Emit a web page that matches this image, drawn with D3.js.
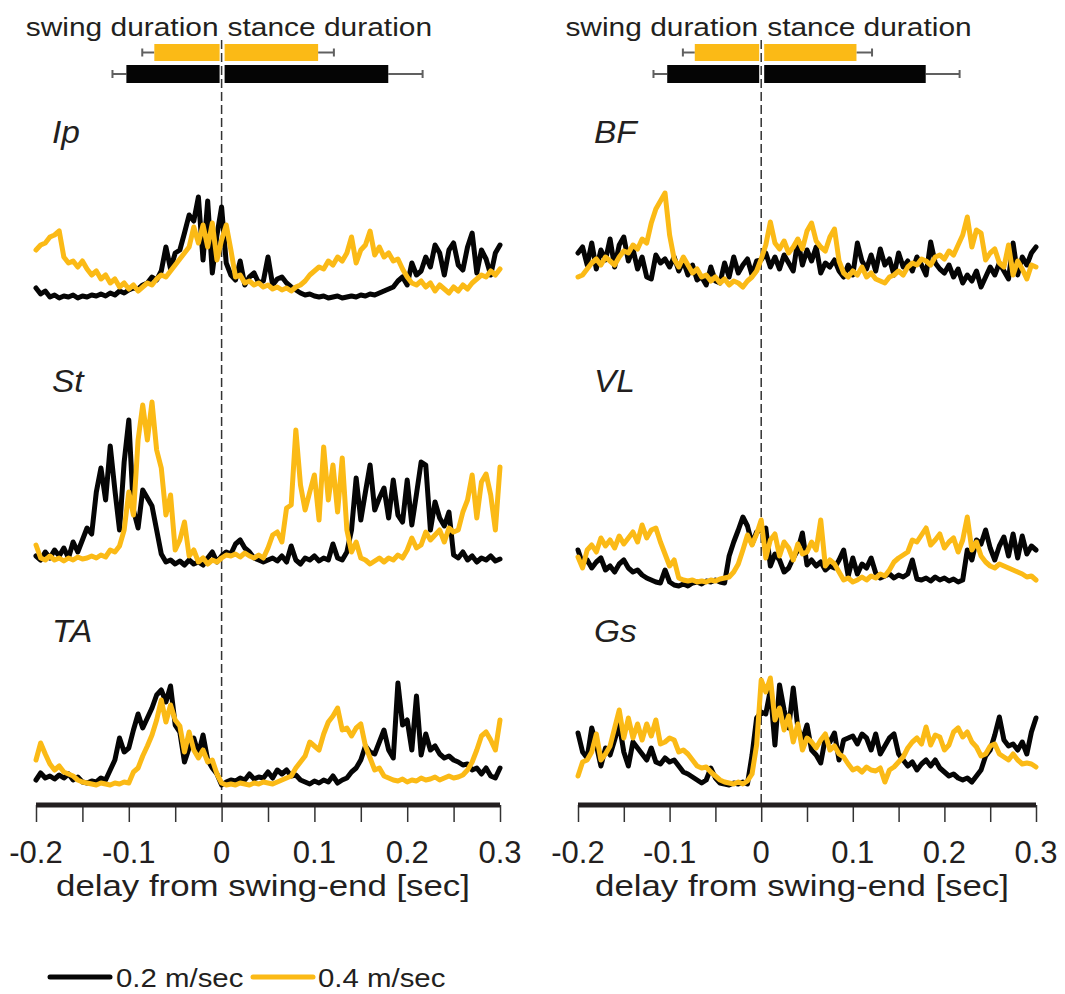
<!DOCTYPE html>
<html>
<head>
<meta charset="utf-8">
<script src="https://cdn.jsdelivr.net/npm/d3@7"></script>
<style>
  html, body { margin: 0; padding: 0; background: #fff; }
  svg { display: block; }
  text { font-family: "Liberation Sans", Arial, Helvetica, sans-serif; fill: #231f20; }
</style>
</head>
<body>
<svg id="chart" width="1065" height="994"></svg>
<script>
// Time base of the averaged EMG traces (seconds relative to swing end)
const t0 = -0.2;
const dt = 0.005;

// Speed conditions
const speeds = ["0.2 m/sec", "0.4 m/sec"];
const speedColors = ["#050505", "#fbba16"];

// Mean swing / stance durations (sec) and their SD, per speed
const swingMean  = [0.1026, 0.0725];
const swingSD    = [0.0150, 0.0130];
const stanceMean = [0.1796, 0.1040];
const stanceSD   = [0.0370, 0.0170];

// Axis ticks
const tickValues = [-0.2, -0.15, -0.1, -0.05, 0, 0.05, 0.1, 0.15, 0.2, 0.25, 0.3];
const tickLabels = ["-0.2", "-0.1", "0", "0.1", "0.2", "0.3"];

// Muscle names
const muscles = ["Ip", "St", "TA", "BF", "VL", "Gs"];

// Rectified EMG envelopes (a.u.), 0.2 m/sec
const ipSlow = [17,11,14,8,10,7,9,8,10,7,9, 8,10,9,11,9,12,10,14,12,15, 17,16,20,22,28,25,34,58,36,52, 55,72,90,84,108,45,104,32,70,98, 42,30,25,44,20,28,32,22,24,48, 20,26,28,22,18,15,12,10,11,9, 8,9,7,8,9,7,8,9,8,10, 9,11,10,12,14,16,18,24,28,20, 42,30,34,48,38,60,52,30,55,62, 40,35,58,72,32,55,46,30,52,60];
const stSlow = [14,10,18,12,20,14,22,12,28,18,30, 42,36,78,102,70,124,80,40,108,150, 60,42,80,72,64,40,16,8,10,6, 9,5,10,6,8,5,12,18,8,14, 18,16,26,30,22,18,12,10,8,10, 12,9,14,8,24,10,6,12,10,14, 9,12,10,26,12,10,18,40,92,50, 78,105,60,72,82,52,90,55,48,90, 45,76,108,105,40,68,52,44,58,15, 12,18,10,14,8,12,10,14,9,11];
const taSlow = [10,17,12,14,11,15,12,16,10,13,8, 7,9,8,12,10,20,30,52,38,42, 60,76,62,72,82,95,100,88,104,65, 58,28,42,52,36,55,30,22,16,5, 8,10,9,12,10,16,11,13,12,18, 12,20,16,20,14,15,10,8,6,9, 7,10,8,14,7,10,12,18,22,30, 44,38,36,48,60,40,32,107,65,70, 40,94,35,56,40,44,36,32,34,30, 28,25,26,20,22,16,22,14,12,22];
const bfSlow = [52,58,40,62,36,55,45,66,38,60, 68,44,56,36,48,28,26,50,42,46, 38,48,34,44,30,40,25,28,20,38, 24,22,42,28,48,32,40,46,30,44, 45,52,38,48,36,50,42,34,65,40, 55,44,58,32,42,38,45,34,28,40, 30,62,44,36,50,34,56,40,46,30, 52,38,44,34,48,40,30,63,42,36, 32,40,28,36,22,30,24,34,18,28, 38,30,42,34,26,62,30,48,40,52, 58];
const vlSlow = [40,26,30,22,28,32,20,24,18,26, 30,22,18,20,15,12,10,8,7,20, 8,5,4,6,4,7,8,6,9,8, 10,8,7,34,48,60,73,64,46,58, 60,62,24,36,30,18,22,32,40,57, 25,30,24,28,20,24,22,30,40,14, 32,16,26,22,32,17,12,14,16,12, 15,13,16,30,11,10,12,9,13,10, 12,9,11,8,10,40,30,50,46,60, 42,30,44,53,34,56,32,54,36,44, 40];
const gsSlow = [57,38,32,62,45,24,42,35,50,66, 38,24,48,42,36,30,42,28,26,32, 28,30,24,18,16,13,10,7,10,22, 12,7,6,5,7,6,8,6,35,72, 78,76,100,45,105,80,62,102,62,50, 65,40,35,27,52,48,57,30,50,52, 54,46,56,52,40,56,36,44,52,56, 36,30,24,28,20,26,30,24,30,22, 18,14,16,12,10,12,8,14,20,34, 40,55,73,50,44,46,40,48,36,58, 72];

// Rectified EMG envelopes (a.u.), 0.4 m/sec
const ipFast = [55,60,62,68,70,74,48,42,44,38,44, 36,30,34,26,30,22,26,18,22,16, 20,14,18,22,20,26,30,28,34,40, 46,52,58,78,62,80,58,82,45,65, 80,55,28,30,22,24,20,22,18,20, 16,18,15,17,14,18,20,24,30,34, 38,36,44,40,48,44,52,68,42,55, 60,74,50,58,48,52,44,46,36,28, 22,20,24,18,22,14,20,16,12,18, 14,20,16,22,26,30,28,34,30,36];
const stFast = [25,12,10,14,10,12,9,12,10,13,11, 12,14,12,15,13,20,18,24,40,78, 55,130,165,130,168,120,102,55,75,20, 30,48,14,20,8,12,6,10,8,12, 15,14,16,13,17,14,12,15,12,22, 35,38,28,62,65,140,85,60,78,95, 50,123,70,105,58,112,40,18,28,12, 10,6,9,12,8,12,10,15,12,20, 32,22,25,38,30,35,40,28,42,38, 40,58,70,95,52,88,96,75,40,103];
const taFast = [30,47,36,26,20,24,18,16,14,10,8, 7,6,5,7,6,5,7,6,8,7, 18,22,34,44,55,70,90,68,85,70, 64,38,58,40,32,40,28,30,16,7, 5,6,5,7,6,5,7,6,8,7, 6,8,10,12,14,22,28,34,48,44, 40,56,68,74,82,60,62,54,62,66, 44,32,20,22,14,12,10,9,11,8, 10,9,12,10,11,13,10,12,14,12, 13,15,20,28,40,54,58,50,40,70];
const bfFast = [28,30,36,42,46,40,48,44,40,48, 54,52,60,56,66,62,82,96,104,112, 70,46,38,48,40,32,36,28,30,24, 28,22,26,20,24,22,18,24,28,34, 46,60,83,62,56,64,52,58,66,56, 74,82,64,58,54,68,76,44,32,28, 34,30,38,28,32,26,24,22,28,30, 34,30,38,42,40,46,44,40,48,50, 46,54,50,60,70,88,58,75,72,45, 52,56,42,38,60,30,44,36,26,40, 38];
const vlFast = [33,22,40,45,38,52,44,50,42,54, 46,52,58,48,65,52,60,62,48,36, 24,30,12,10,9,10,8,9,8,10, 9,11,12,13,18,26,40,55,45,56, 70,32,50,56,34,48,42,30,46,36, 38,48,40,70,24,30,26,18,10,12, 8,10,13,10,14,12,16,14,20,28, 32,35,38,50,48,55,62,45,50,56, 42,48,52,38,50,73,40,48,34,28, 24,22,26,24,22,20,18,16,13,14, 10];
const gsFast = [14,28,30,38,56,30,36,44,62,80, 52,72,52,66,50,66,54,70,46,48, 52,50,38,40,36,30,24,22,23,18, 14,10,8,7,6,8,6,9,16,45, 110,98,112,70,82,60,74,48,66,40, 52,48,42,50,56,40,44,36,33,26, 20,22,18,23,20,19,22,8,20,23, 28,33,42,48,52,46,63,45,55,53, 40,45,58,62,53,58,48,43,34,36, 44,46,36,33,30,36,30,26,27,26, 23];

const slowSeries = [ipSlow, stSlow, taSlow, bfSlow, vlSlow, gsSlow];
const fastSeries = [ipFast, stFast, taFast, bfFast, vlFast, gsFast];

// ---------------------------------------------------------------
const svg = d3.select("#chart");

// Widen a text element horizontally by a factor (the typeface is set a bit wide)
function widen(sel, k) {
  sel.each(function () {
    const w = this.getComputedTextLength();
    d3.select(this).attr("textLength", w * k).attr("lengthAdjust", "spacingAndGlyphs");
  });
  return sel;
}

const columns = [
  { range: [36, 500] },
  { range: [578, 1036] }
];
// baseline of each trace row, per column
const rowBase = [[305, 570, 790], [305, 590, 790]];
const axisY = 805;

const line = (xs, ys) => d3.line()
  .x((d, i) => xs(t0 + i * dt))
  .y(d => ys(d))
  .curve(d3.curveLinear);

columns.forEach((col, c) => {
  const x = d3.scaleLinear().domain([-0.2, 0.3]).range(col.range);
  const g = svg.append("g");

  // zero line (swing end)
  g.append("line")
    .attr("x1", x(0)).attr("x2", x(0))
    .attr("y1", 40).attr("y2", axisY)
    .attr("stroke", "#333").attr("stroke-width", 1.5)
    .attr("stroke-dasharray", "9,4");

  // duration headers
  const h1 = g.append("text").attr("x", x(0) - 3).attr("y", 36)
    .attr("text-anchor", "end").attr("font-size", 26)
    .text("swing duration");
  widen(h1, 1.15);
  const h2 = g.append("text").attr("x", x(0) + 6).attr("y", 36)
    .attr("text-anchor", "start").attr("font-size", 26)
    .text("stance duration");
  widen(h2, 1.15);

  // duration bars with SD whiskers; fast speed on top row
  const barRows = [{ s: 1, y: 44, h: 17 }, { s: 0, y: 65, h: 18 }];
  barRows.forEach(r => {
    const s = r.s;
    const cy = r.y + r.h / 2;
    const wx = [
      [x(-swingMean[s] - swingSD[s]), x(-swingMean[s])],
      [x(stanceMean[s]), x(stanceMean[s] + stanceSD[s])]
    ];
    wx.forEach(([a, b], k) => {
      g.append("line").attr("x1", a).attr("x2", b).attr("y1", cy).attr("y2", cy)
        .attr("stroke", "#606060").attr("stroke-width", 2);
      const cap = k === 0 ? a : b;
      g.append("line").attr("x1", cap).attr("x2", cap).attr("y1", cy - 4).attr("y2", cy + 4)
        .attr("stroke", "#606060").attr("stroke-width", 2);
    });
    g.append("rect")
      .attr("x", x(-swingMean[s])).attr("y", r.y)
      .attr("width", x(0) - 2 - x(-swingMean[s])).attr("height", r.h)
      .attr("fill", speedColors[s]);
    g.append("rect")
      .attr("x", x(0) + 3).attr("y", r.y)
      .attr("width", x(stanceMean[s]) - x(0) - 3).attr("height", r.h)
      .attr("fill", speedColors[s]);
  });

  // traces
  for (let r = 0; r < 3; r++) {
    const idx = c * 3 + r;
    const base = rowBase[c][r];
    const y = d3.scaleLinear().domain([0, 100]).range([base, base - 100]);
    [slowSeries[idx], fastSeries[idx]].forEach((vals, s) => {
      g.append("path")
        .datum(vals)
        .attr("d", line(x, y))
        .attr("fill", "none")
        .attr("stroke", speedColors[s])
        .attr("stroke-width", 5)
        .attr("stroke-linejoin", "round")
        .attr("stroke-linecap", "round");
    });
    const lab = g.append("text")
      .attr("x", col.range[0] + 16)
      .attr("y", [143, 392, 642][r])
      .attr("font-size", 31).attr("font-style", "italic")
      .text(muscles[idx]);
    widen(lab, 1.08);
  }

  // x axis
  const axis = d3.axisBottom(x).tickValues(tickValues).tickSize(17).tickFormat("");
  const ax = g.append("g").attr("transform", `translate(0,${axisY})`).call(axis);
  ax.select(".domain").remove();
  ax.selectAll(".tick line").attr("stroke", "#333").attr("stroke-width", 1.5);
  g.append("line")
    .attr("x1", col.range[0]).attr("x2", col.range[1])
    .attr("y1", axisY).attr("y2", axisY)
    .attr("stroke", "#231f20").attr("stroke-width", 5);
  tickLabels.forEach(l => {
    g.append("text").attr("x", x(+l)).attr("y", 863)
      .attr("text-anchor", "middle").attr("font-size", 31)
      .text(l);
  });
  const ttl = g.append("text").attr("x", (col.range[0] + col.range[1]) / 2 - 5).attr("y", 896)
    .attr("text-anchor", "middle").attr("font-size", 29)
    .text("delay from swing-end [sec]");
  widen(ttl, 1.2);
});

// legend
const legend = svg.append("g");
[[50, 110, 116], [253, 313, 318]].forEach((p, s) => {
  legend.append("line").attr("x1", p[0]).attr("x2", p[1]).attr("y1", 977).attr("y2", 977)
    .attr("stroke", speedColors[s]).attr("stroke-width", 5).attr("stroke-linecap", "round");
  const t = legend.append("text").attr("x", p[2]).attr("y", 987).attr("font-size", 26)
    .text(speeds[s]);
  widen(t, 1.13);
});
</script>
</body>
</html>
